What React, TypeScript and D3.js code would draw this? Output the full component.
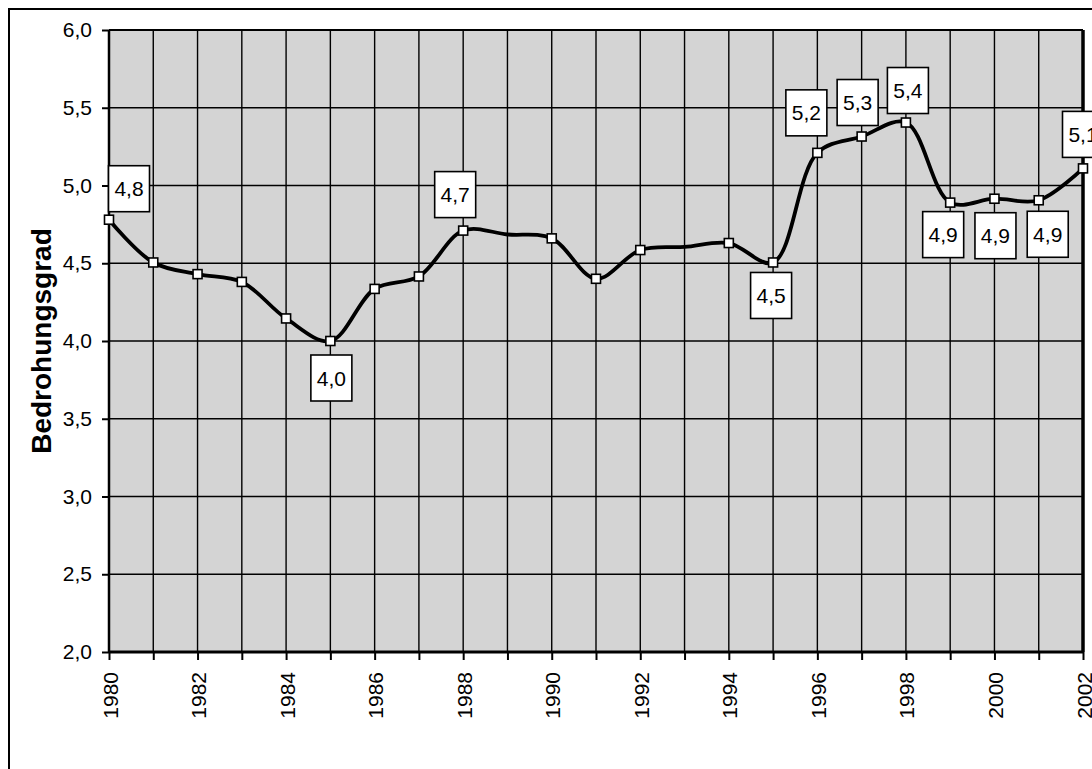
import { useEffect, useRef } from "react";
import * as d3 from "d3";

// Bedrohungsgrad per year (1989 and 1993 are drawn in the curve, without marker)
const years = [
  1980, 1981, 1982, 1983, 1984, 1985, 1986, 1987, 1988, 1989, 1990, 1991,
  1992, 1993, 1994, 1995, 1996, 1997, 1998, 1999, 2000, 2001, 2002,
];
const values = [
  4.78, 4.505, 4.43, 4.38, 4.145, 4.0, 4.335, 4.415, 4.71, 4.685, 4.66, 4.4,
  4.585, 4.605, 4.63, 4.505, 5.21, 5.315, 5.405, 4.89, 4.915, 4.905, 5.11,
];
const unmarkedYears = [1989, 1993];

const yTicks = [2.0, 2.5, 3.0, 3.5, 4.0, 4.5, 5.0, 5.5, 6.0];
const xTickLabels = [1980, 1982, 1984, 1986, 1988, 1990, 1992, 1994, 1996, 1998, 2000, 2002];
const yTitle = "Bedrohungsgrad";

// data labels: which years get a box, and where the box sits next to the marker
const labelYears = [1980, 1985, 1988, 1995, 1996, 1997, 1998, 1999, 2000, 2001, 2002];
const labelPlacement = [
  { dx: 20, gap: -8 },
  { dx: 1, gap: 14 },
  { dx: -8, gap: -13 },
  { dx: -2, gap: 10 },
  { dx: -11, gap: -17 },
  { dx: -4, gap: -11 },
  { dx: 2, gap: -9 },
  { dx: -7, gap: 9 },
  { dx: 1, gap: 14 },
  { dx: 9, gap: 11 },
  { dx: 0, gap: -11 },
];

const fmt = (v: number) => v.toFixed(1).replace(".", ",");

const App = () => {
  const ref = useRef<SVGSVGElement>(null);

  useEffect(() => {
    const svg = d3.select(ref.current);
    svg.selectAll("*").remove();

    const font = "'Liberation Sans', Arial, sans-serif";
    const left = 109, right = 1083, top = 30, bottom = 652;

    const x = d3.scaleLinear().domain([1980, 2002]).range([left, right]);
    const y = d3.scaleLinear().domain([2, 6]).range([bottom, top]);

    // outer chart frame
    svg.append("rect")
      .attr("x", 9).attr("y", 9)
      .attr("width", 1200).attr("height", 900)
      .attr("fill", "#fff")
      .attr("stroke", "#000")
      .attr("stroke-width", 2);

    // plot area
    svg.append("rect")
      .attr("x", left).attr("y", top)
      .attr("width", right - left).attr("height", bottom - top)
      .attr("fill", "#d4d4d4");

    // grid
    svg.append("g")
      .selectAll("line")
      .data(years.slice(1, -1))
      .join("line")
      .attr("x1", d => x(d)).attr("x2", d => x(d))
      .attr("y1", top).attr("y2", bottom)
      .attr("stroke", "#000").attr("stroke-width", 1.4);

    svg.append("g")
      .selectAll("line")
      .data(yTicks.slice(1, -1))
      .join("line")
      .attr("x1", left).attr("x2", right)
      .attr("y1", d => y(d)).attr("y2", d => y(d))
      .attr("stroke", "#000").attr("stroke-width", 1.4);

    // plot border
    svg.append("line").attr("x1", left).attr("x2", right).attr("y1", top).attr("y2", top)
      .attr("stroke", "#000").attr("stroke-width", 2);
    svg.append("line").attr("x1", right).attr("x2", right).attr("y1", top).attr("y2", bottom)
      .attr("stroke", "#000").attr("stroke-width", 3.5);

    // y axis
    const yAxis = svg.append("g")
      .attr("transform", `translate(${left},0)`)
      .call(d3.axisLeft(y).tickValues(yTicks).tickSize(7).tickPadding(10).tickFormat(d => fmt(+d)));
    yAxis.select(".domain").attr("stroke-width", 2.5).attr("d", `M0,${top}V${bottom}`);
    yAxis.selectAll(".tick line").attr("stroke-width", 2);
    yAxis.selectAll("text")
      .attr("font-family", font).attr("font-size", 21).attr("fill", "#000");

    // x axis
    const xAxis = svg.append("g")
      .attr("transform", `translate(0,${bottom})`)
      .call(d3.axisBottom(x).tickValues(years).tickSize(8).tickFormat(() => ""));
    xAxis.select(".domain").attr("stroke-width", 3).attr("d", `M${left},0H${right}`);
    xAxis.selectAll(".tick line").attr("stroke-width", 2);

    svg.append("g")
      .selectAll("text")
      .data(xTickLabels)
      .join("text")
      .attr("transform", d => `translate(${x(d) + 1},672) rotate(-90)`)
      .attr("text-anchor", "end")
      .attr("dy", "0.36em")
      .attr("font-family", font).attr("font-size", 21)
      .text(d => d);

    // y axis title
    svg.append("text")
      .attr("transform", `translate(51,${(top + bottom) / 2}) rotate(-90)`)
      .attr("text-anchor", "middle")
      .attr("font-family", font).attr("font-size", 28).attr("font-weight", "bold")
      .text(yTitle);

    // line
    const pts = years.map((yr, i) => ({ yr, v: values[i] }));
    const line = d3.line<{ yr: number; v: number }>()
      .x(d => x(d.yr))
      .y(d => y(d.v))
      .curve(d3.curveCatmullRom.alpha(0.5));

    svg.append("path")
      .datum(pts)
      .attr("fill", "none")
      .attr("stroke", "#000")
      .attr("stroke-width", 3.8)
      .attr("stroke-linejoin", "round")
      .attr("d", line);

    // markers
    svg.append("g")
      .selectAll("rect")
      .data(pts.filter(d => !unmarkedYears.includes(d.yr)))
      .join("rect")
      .attr("x", d => x(d.yr) - 4.5).attr("y", d => y(d.v) - 4.5)
      .attr("width", 9).attr("height", 9)
      .attr("fill", "#fff")
      .attr("stroke", "#000").attr("stroke-width", 1.6);

    // data labels
    const bw = 41, bh = 46;
    const labels = svg.append("g")
      .selectAll("g")
      .data(labelYears.map((yr, i) => ({ yr, v: values[years.indexOf(yr)], ...labelPlacement[i] })))
      .join("g")
      .attr("transform", d => {
        const cx = x(d.yr) + d.dx;
        const by = d.gap < 0 ? y(d.v) + d.gap - bh : y(d.v) + d.gap;
        return `translate(${cx - bw / 2},${by})`;
      });
    labels.append("rect")
      .attr("width", bw).attr("height", bh)
      .attr("fill", "#fff")
      .attr("stroke", "#000").attr("stroke-width", 1.6);
    labels.append("text")
      .attr("x", bw / 2).attr("y", bh / 2)
      .attr("dy", "0.36em")
      .attr("text-anchor", "middle")
      .attr("font-family", font).attr("font-size", 21)
      .text(d => fmt(d.v));
  }, []);

  return (
    <svg
      ref={ref}
      width={1092}
      height={769}
      style={{ position: "absolute", left: 0, top: 0, background: "#fff" }}
    />
  );
};

export default App;
